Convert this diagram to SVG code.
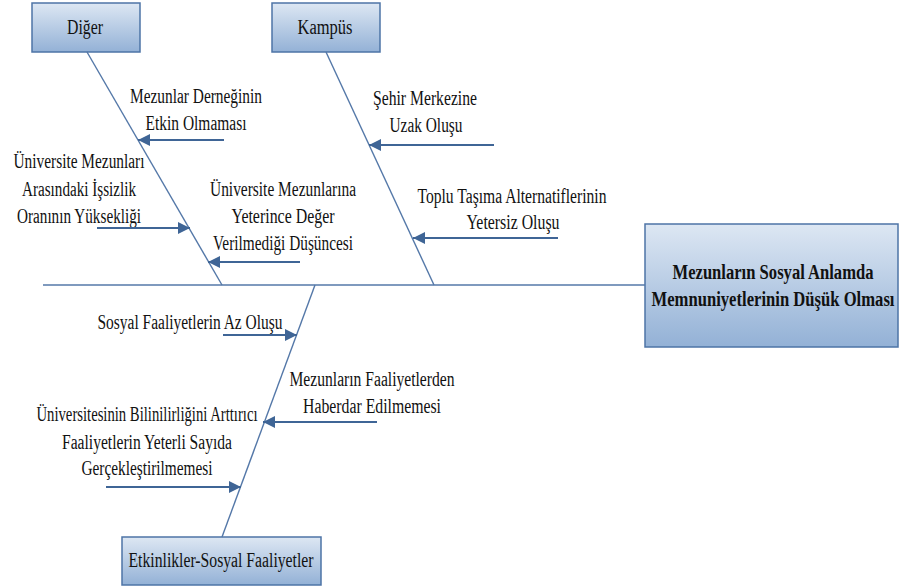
<svg xmlns="http://www.w3.org/2000/svg" width="899" height="587" viewBox="0 0 899 587">
  <style>
    .t { font-family: "Liberation Serif", "Times New Roman", serif; font-size: 20px; fill: #111; }
    .b { font-weight: bold; font-size: 20px; }
    .box { fill: url(#boxFill); stroke: #4d74a6; stroke-width: 1.5; }
    .bone { stroke: #5478a8; stroke-width: 1.4; fill: none; }
    .arr { stroke: #3f6596; stroke-width: 2; fill: none; marker-end: url(#head); }
  </style>
  <defs>
    <linearGradient id="boxFill" x1="0" y1="0" x2="0" y2="1">
      <stop offset="0" stop-color="#dde7f3"/>
      <stop offset="1" stop-color="#93b1d6"/>
    </linearGradient>
    <marker id="head" markerUnits="userSpaceOnUse" markerWidth="14" markerHeight="14" refX="12" refY="6" orient="auto">
      <path d="M0,0 L12,6 L0,12 Z" fill="#3f6596"/>
    </marker>
  </defs>

  <!-- effect box -->
  <g id="effect">
    <rect class="box" x="645" y="224" width="253" height="123"/>
    <text class="t b" x="773" y="279" text-anchor="middle" textLength="201" lengthAdjust="spacingAndGlyphs">Mezunların Sosyal Anlamda</text>
    <text class="t b" x="773" y="306" text-anchor="middle" textLength="243" lengthAdjust="spacingAndGlyphs">Memnuniyetlerinin Düşük Olması</text>
  </g>

  <!-- category boxes -->
  <g id="diger">
    <rect class="box" x="32" y="3" width="108" height="49"/>
    <text class="t" x="85" y="34" text-anchor="middle" textLength="36" lengthAdjust="spacingAndGlyphs">Diğer</text>
  </g>
  <g id="kampus">
    <rect class="box" x="272" y="3" width="108" height="49"/>
    <text class="t" x="325" y="34" text-anchor="middle" textLength="55" lengthAdjust="spacingAndGlyphs">Kampüs</text>
  </g>
  <g id="etkinlikler">
    <rect class="box" x="122" y="537" width="199" height="48"/>
    <text class="t" x="221" y="567" text-anchor="middle" textLength="185" lengthAdjust="spacingAndGlyphs">Etkinlikler-Sosyal Faaliyetler</text>
  </g>

  <!-- cause labels -->
  <g id="c-dernek">
    <text class="t" x="196" y="103" text-anchor="middle" textLength="132" lengthAdjust="spacingAndGlyphs">Mezunlar Derneğinin</text>
    <text class="t" x="196" y="130" text-anchor="middle" textLength="101" lengthAdjust="spacingAndGlyphs">Etkin Olmaması</text>
  </g>
  <g id="c-issizlik">
    <text class="t" x="79" y="168" text-anchor="middle" textLength="131" lengthAdjust="spacingAndGlyphs">Üniversite Mezunları</text>
    <text class="t" x="79" y="196" text-anchor="middle" textLength="114" lengthAdjust="spacingAndGlyphs">Arasındaki İşsizlik</text>
    <text class="t" x="79" y="223" text-anchor="middle" textLength="124" lengthAdjust="spacingAndGlyphs">Oranının Yüksekliği</text>
  </g>
  <g id="c-deger">
    <text class="t" x="283" y="196" text-anchor="middle" textLength="146" lengthAdjust="spacingAndGlyphs">Üniversite Mezunlarına</text>
    <text class="t" x="283" y="223" text-anchor="middle" textLength="103" lengthAdjust="spacingAndGlyphs">Yeterince Değer</text>
    <text class="t" x="283" y="250" text-anchor="middle" textLength="140" lengthAdjust="spacingAndGlyphs">Verilmediği Düşüncesi</text>
  </g>
  <g id="c-sehir">
    <text class="t" x="425" y="105" text-anchor="middle" textLength="104" lengthAdjust="spacingAndGlyphs">Şehir Merkezine</text>
    <text class="t" x="426" y="132" text-anchor="middle" textLength="73" lengthAdjust="spacingAndGlyphs">Uzak Oluşu</text>
  </g>
  <g id="c-ulasim">
    <text class="t" x="512" y="203" text-anchor="middle" textLength="189" lengthAdjust="spacingAndGlyphs">Toplu Taşıma Alternatiflerinin</text>
    <text class="t" x="513" y="229" text-anchor="middle" textLength="93" lengthAdjust="spacingAndGlyphs">Yetersiz Oluşu</text>
  </g>
  <g id="c-az">
    <text class="t" x="190" y="329" text-anchor="middle" textLength="185" lengthAdjust="spacingAndGlyphs">Sosyal Faaliyetlerin Az Oluşu</text>
  </g>
  <g id="c-haberdar">
    <text class="t" x="372" y="386" text-anchor="middle" textLength="165" lengthAdjust="spacingAndGlyphs">Mezunların Faaliyetlerden</text>
    <text class="t" x="372" y="413" text-anchor="middle" textLength="138" lengthAdjust="spacingAndGlyphs">Haberdar Edilmemesi</text>
  </g>
  <g id="c-bilinirlik">
    <text class="t" x="147" y="421" text-anchor="middle" textLength="221" lengthAdjust="spacingAndGlyphs">Üniversitesinin Bilinilirliğini Arttırıcı</text>
    <text class="t" x="147" y="449" text-anchor="middle" textLength="170" lengthAdjust="spacingAndGlyphs">Faaliyetlerin Yeterli Sayıda</text>
    <text class="t" x="147" y="475" text-anchor="middle" textLength="131" lengthAdjust="spacingAndGlyphs">Gerçekleştirilmemesi</text>
  </g>

  <!-- spine, bones and cause arrows -->
  <g id="connectors">
    <line class="bone" x1="43" y1="285" x2="645" y2="285"/>
    <line class="bone" x1="87" y1="52" x2="222" y2="285"/>
    <line class="bone" x1="326" y1="52" x2="434" y2="285"/>
    <line class="bone" x1="315" y1="285" x2="222" y2="537"/>

    <line class="arr" x1="224" y1="140" x2="138" y2="140"/>
    <line class="arr" x1="97" y1="228" x2="190" y2="228"/>
    <line class="arr" x1="300" y1="262" x2="208" y2="262"/>
    <line class="arr" x1="494" y1="145" x2="369" y2="145"/>
    <line class="arr" x1="558" y1="238" x2="413" y2="238"/>
    <line class="arr" x1="223" y1="335" x2="297" y2="335"/>
    <line class="arr" x1="377" y1="422" x2="263" y2="422"/>
    <line class="arr" x1="106" y1="487" x2="241" y2="487"/>
  </g>
</svg>
